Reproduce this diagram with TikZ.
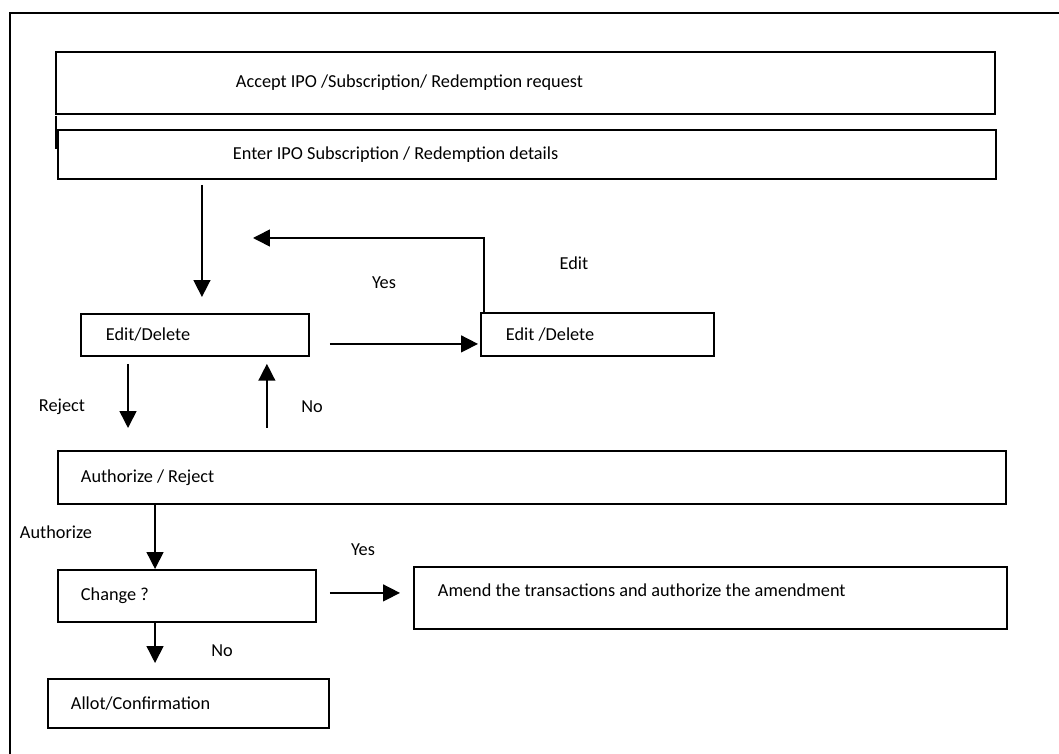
\documentclass[tikz,border=0pt]{standalone}
\usepackage{fontspec}
\setmainfont{Carlito}
\usepackage{tikz}
\usetikzlibrary{arrows.meta}

\begin{document}
\begin{tikzpicture}[x=0.025cm, y=-0.025cm,
    box/.style={draw, line width=1.3pt, anchor=north west, align=left, inner ysep=0pt,
        execute at begin node={\spaceskip=0pt\xspaceskip=0pt\relax}},
    arr/.style={line width=1.1pt, -{Triangle[length=12pt, width=12pt]}},
    lbl/.style={inner sep=0pt}]
    \useasboundingbox (0,0) rectangle (1059,754);
    \fontsize{13}{15}\selectfont
    \draw[line width=1.3pt] (10,754) -- (10,13) -- (1059,13);
    \draw[line width=1pt] (56,116) -- (56,149);
    \node [box, text width=14.475cm, inner xsep=4.5cm, minimum height=1.55cm] (accept) at (55,51) {Accept IPO /Subscription/ Redemption request};
    \node [box, text width=14.7cm, inner xsep=4.375cm, minimum height=1.225cm] (enter) at (57,129) {Enter IPO Subscription / Redemption details};
    \node [box, text width=4.45cm, inner xsep=0.625cm, minimum height=1.05cm] (edit1) at (80,313) {Edit/Delete};
    \node [box, text width=4.575cm, inner xsep=0.625cm, minimum height=1.075cm] (edit2) at (480,312) {Edit /Delete};
    \node [box, text width=22.55cm, inner xsep=0.575cm, minimum height=1.325cm] (auth) at (57,450) {Authorize / Reject};
    \node [box, text width=5.3cm, inner xsep=0.575cm, minimum height=1.3cm] (change) at (57,569) {Change ?};
    \node [box, text width=13.625cm, inner xsep=0.6cm, minimum height=1.55cm, text depth=0.4cm] (amend) at (413,566) {Amend the transactions and authorize the amendment};
    \node [box, text width=5.875cm, inner xsep=0.575cm, minimum height=1.225cm] (allot) at (47,678) {Allot/Confirmation};
    \coordinate (back) at (253,238);
    \draw[arr, shorten <=0.125cm, shorten >=0.4cm] ([xshift=0.175cm]edit1.north |- enter.south) -- ([xshift=0.175cm]edit1.north);
    \draw[arr] ([xshift=0.1cm]edit2.north west) |- (back);
    \draw[arr, shorten <=0.5cm, shorten >=0.05cm] ([yshift=-0.225cm]edit1.east) -- ([yshift=-0.225cm]edit1.east -| edit2.west);
    \draw[arr, shorten <=0.175cm, shorten >=0.55cm] ([xshift=1.2cm]edit1.south west) -- ([xshift=1.2cm]edit1.south west |- auth.north);
    \draw[arr, shorten <=0.55cm, shorten >=0.175cm] ([xshift=-1.075cm]edit1.south east |- auth.north) -- ([xshift=-1.075cm]edit1.south east);
    \draw[arr] ([xshift=2.45cm]change.north west |- auth.south) -- ([xshift=2.45cm]change.north west);
    \draw[arr, shorten <=0.325cm, shorten >=0.325cm] ([yshift=0.075cm]change.east) -- ([yshift=0.075cm]change.east -| amend.west);
    \draw[arr, shorten >=0.375cm] ([xshift=2.45cm]change.south west) -- ([xshift=2.45cm]change.south west |- allot.north);
    \node [lbl] (editlbl) at (574,263) {Edit};
    \node [lbl] (yes1) at (384,283) {Yes};
    \node [lbl] (reject) at (62,407) {Reject};
    \node [lbl] (no1) at (312,407) {No};
    \node [lbl] (authlbl) at (56,532) {Authorize};
    \node [lbl] (yes2) at (363,550) {Yes};
    \node [lbl] (no2) at (222,651) {No};
\end{tikzpicture}
\end{document}
